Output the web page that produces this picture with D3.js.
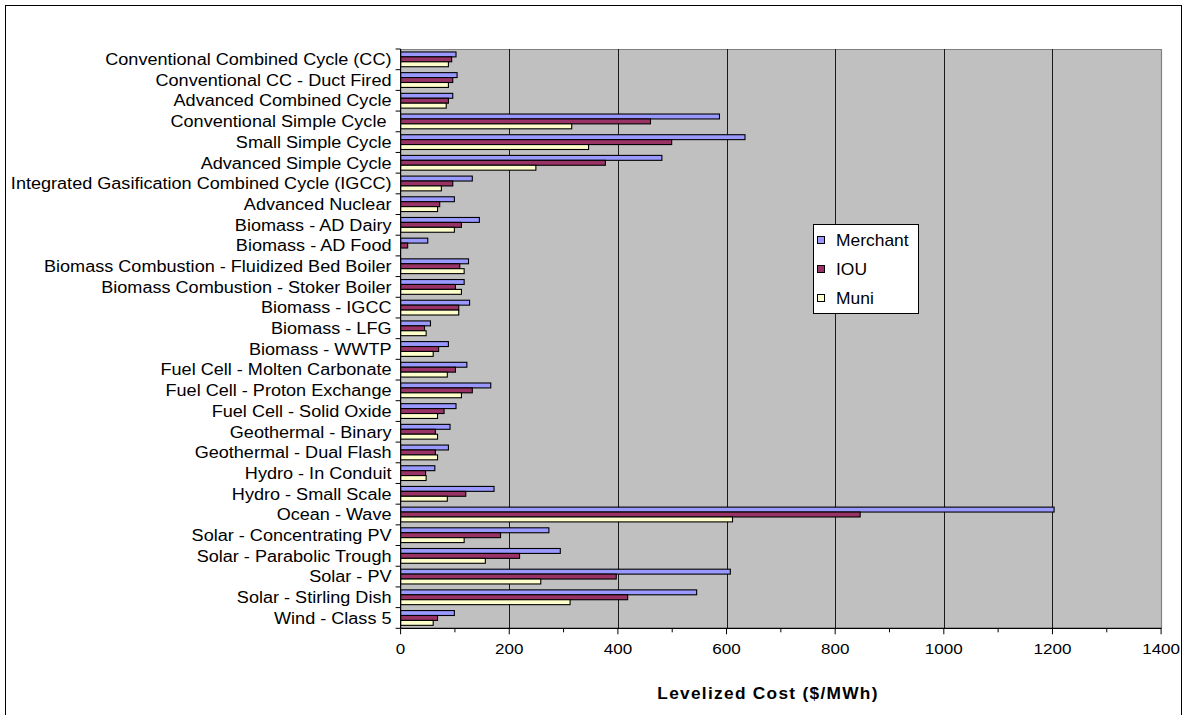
<!DOCTYPE html>
<html>
<head>
<meta charset="utf-8">
<script src="https://cdn.jsdelivr.net/npm/d3@7"></script>
<style>
  html, body { margin: 0; padding: 0; background: #fff; }
  svg { display: block; }
  text { font-family: "Liberation Sans", Arial, sans-serif; fill: #000; }
</style>
</head>
<body>
<svg id="chart" width="1187" height="715"></svg>
<script>
// Technologies, top to bottom
const categories = [
  "Conventional Combined Cycle (CC)",
  "Conventional CC - Duct Fired",
  "Advanced Combined Cycle",
  "Conventional Simple Cycle ",
  "Small Simple Cycle",
  "Advanced Simple Cycle",
  "Integrated Gasification Combined Cycle (IGCC)",
  "Advanced Nuclear",
  "Biomass - AD Dairy",
  "Biomass - AD Food",
  "Biomass Combustion - Fluidized Bed Boiler",
  "Biomass Combustion - Stoker Boiler",
  "Biomass - IGCC",
  "Biomass - LFG",
  "Biomass - WWTP",
  "Fuel Cell - Molten Carbonate",
  "Fuel Cell - Proton Exchange",
  "Fuel Cell - Solid Oxide",
  "Geothermal - Binary",
  "Geothermal - Dual Flash",
  "Hydro - In Conduit",
  "Hydro - Small Scale",
  "Ocean - Wave",
  "Solar - Concentrating PV",
  "Solar - Parabolic Trough",
  "Solar - PV",
  "Solar - Stirling Dish",
  "Wind - Class 5"
];

// Levelized cost ($/MWh) by owner type
const merchant = [102, 104, 96, 587, 634, 481, 132, 99, 145, 50, 125, 117, 127, 55, 88, 122, 166, 102, 91, 88, 63, 172, 1203, 273, 294, 607, 545, 99];
const iou      = [94, 96, 88, 460, 499, 377, 96, 72, 112, 13, 109, 101, 107, 44, 70, 101, 132, 80, 64, 64, 46, 120, 846, 184, 219, 397, 418, 68];
const muni     = [88, 88, 84, 315, 346, 249, 75, 68, 99, 0, 117, 112, 107, 47, 60, 86, 112, 68, 68, 68, 47, 86, 611, 117, 156, 258, 312, 60];

const seriesNames = ["Merchant", "IOU", "Muni"];
const seriesColors = ["#9999FF", "#993366", "#FFFFCC"];
const xTicks = [0, 200, 400, 600, 800, 1000, 1200, 1400];
const xMinorTicks = [100, 300, 500, 700, 900, 1100, 1300];
const xTitle = "Levelized Cost ($/MWh)";

const seriesValues = [merchant, iou, muni];

// the text face is drawn slightly wider than its nominal size
const WIDEN = 1.13;

const svg = d3.select("#chart");

// outer chart frame
svg.append("rect")
  .attr("x", 5.5).attr("y", 5.5)
  .attr("width", 1176).attr("height", 720)
  .attr("fill", "#fff").attr("stroke", "#000").attr("stroke-width", 1);

const plot = { left: 400.6, right: 1161.1, top: 49, bottom: 628.3 };

const x = d3.scaleLinear().domain([0, 1400]).range([plot.left, plot.right]);
const y = d3.scaleBand().domain(categories).range([plot.top, plot.bottom]).padding(0);
const ySub = d3.scaleBand().domain(seriesNames).range([0, y.bandwidth()])
  .paddingInner(0).paddingOuter(0.6);

// plot background
svg.append("rect")
  .attr("x", plot.left).attr("y", plot.top)
  .attr("width", plot.right - plot.left).attr("height", plot.bottom - plot.top)
  .attr("fill", "#C0C0C0");

// top and right edges of the plot area
svg.append("path")
  .attr("d", `M${plot.left},${plot.top + 0.5}H${Math.round(plot.right) + 0.5}V${plot.bottom}`)
  .attr("fill", "none").attr("stroke", "#808080").attr("stroke-width", 1.2);

// vertical gridlines
svg.append("g").selectAll("line")
  .data(xTicks.filter(d => d > 0 && d < 1400))
  .join("line")
  .attr("x1", d => Math.round(x(d)) + 0.5).attr("x2", d => Math.round(x(d)) + 0.5)
  .attr("y1", plot.top).attr("y2", plot.bottom)
  .attr("stroke", "#1a1a1a").attr("stroke-width", 1);

// bars
const rows = categories.map((c, i) => ({ c, vals: seriesValues.map(s => s[i]) }));
const groups = svg.append("g").selectAll("g")
  .data(rows)
  .join("g")
  .attr("transform", d => `translate(0,${y(d.c)})`);

groups.selectAll("rect")
  .data(d => d.vals.map((v, k) => ({ v, k })).filter(e => e.v > 0))
  .join("rect")
  .attr("x", x(0))
  .attr("y", e => ySub(seriesNames[e.k]))
  .attr("width", e => x(e.v) - x(0))
  .attr("height", ySub.bandwidth())
  .attr("fill", e => seriesColors[e.k])
  .attr("stroke", "#000")
  .attr("stroke-width", 1.1);

// x axis
const xAxis = svg.append("g");
xAxis.append("line")
  .attr("x1", plot.left).attr("x2", plot.right + 0.5)
  .attr("y1", plot.bottom).attr("y2", plot.bottom)
  .attr("stroke", "#000").attr("stroke-width", 1.2);
xAxis.selectAll(".major")
  .data(xTicks).join("line").attr("class", "major")
  .attr("x1", d => x(d)).attr("x2", d => x(d))
  .attr("y1", plot.bottom).attr("y2", plot.bottom + 6)
  .attr("stroke", "#000");
xAxis.selectAll(".minor")
  .data(xMinorTicks).join("line").attr("class", "minor")
  .attr("x1", d => x(d)).attr("x2", d => x(d))
  .attr("y1", plot.bottom).attr("y2", plot.bottom + 4)
  .attr("stroke", "#000");
xAxis.selectAll("text")
  .data(xTicks).join("text")
  .attr("transform", d => `translate(${x(d)},654) scale(1.1,1)`)
  .attr("text-anchor", "middle")
  .style("font-size", "15.5px")
  .text(d => d);

svg.append("text")
  .attr("transform", `translate(768,699) scale(1.08,1)`)
  .attr("text-anchor", "middle")
  .style("font-size", "16px").style("font-weight", "bold")
  .style("letter-spacing", "1.2px")
  .text(xTitle);

// y axis
const yAxis = svg.append("g");
yAxis.append("line")
  .attr("x1", plot.left).attr("x2", plot.left)
  .attr("y1", plot.top).attr("y2", plot.bottom)
  .attr("stroke", "#000").attr("stroke-width", 1.2);
const boundaries = categories.map(c => y(c)).concat([plot.bottom]);
yAxis.selectAll(".tick")
  .data(boundaries).join("line").attr("class", "tick")
  .attr("x1", plot.left - 5).attr("x2", plot.left)
  .attr("y1", d => d).attr("y2", d => d)
  .attr("stroke", "#000");
yAxis.selectAll("text")
  .data(categories).join("text")
  .attr("transform", d => `translate(391.5,${y(d) + y.bandwidth() / 2}) scale(${WIDEN},1)`)
  .attr("dy", "0.36em")
  .attr("text-anchor", "end")
  .style("font-size", "16px")
  .style("white-space", "pre")
  .text(d => d);

// legend
const legend = svg.append("g").attr("transform", "translate(813,224)");
legend.append("rect")
  .attr("x", 0.5).attr("y", 0.5).attr("width", 105).attr("height", 89)
  .attr("fill", "#fff").attr("stroke", "#000");
seriesNames.forEach((name, k) => {
  const cy = 16 + k * 29;
  legend.append("rect")
    .attr("x", 4.5).attr("y", cy - 3.5).attr("width", 7).attr("height", 7)
    .attr("fill", seriesColors[k]).attr("stroke", "#000");
  legend.append("text")
    .attr("transform", `translate(23,${cy}) scale(1.09,1)`)
    .attr("dy", "0.36em")
    .style("font-size", "16px")
    .text(name);
});
</script>
</body>
</html>
